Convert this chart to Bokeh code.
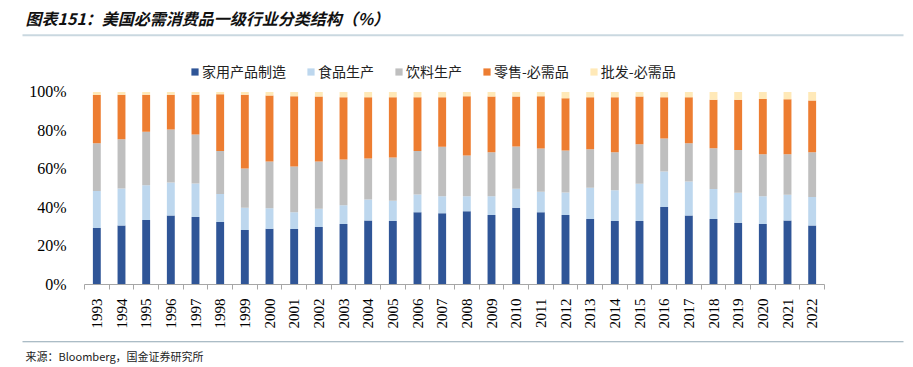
import math
import numpy as np
from bokeh.plotting import figure
from bokeh.layouts import column
from bokeh.models import (ColumnDataSource, Range1d, FixedTicker, Label, BoxAnnotation,
                          Legend, LegendItem, NumeralTickFormatter, Plot, Div)
from bokeh.embed import file_html
from bokeh.resources import INLINE

years = [str(y) for y in range(1993, 2023)]
series_names = ["家用产品制造", "食品生产", "饮料生产", "零售-必需品", "批发-必需品"]
household = [29.4, 30.7, 33.5, 35.8, 35.1, 32.5, 28.3, 29.0, 28.8, 29.9,
             31.4, 33.3, 33.0, 37.5, 37.0, 38.0, 36.1, 39.9, 37.5, 36.1,
             34.0, 33.0, 33.0, 40.2, 35.8, 34.0, 32.1, 31.4, 33.2, 30.7]
food = [19.1, 19.2, 18.0, 17.2, 17.4, 14.5, 11.6, 10.6, 8.7, 9.5,
        9.7, 10.9, 10.5, 9.3, 8.8, 7.8, 9.7, 9.8, 10.7, 11.7,
        16.3, 15.9, 19.3, 18.5, 17.7, 15.6, 15.6, 14.4, 13.4, 14.7]
beverage = [24.9, 25.6, 27.8, 27.5, 25.4, 22.4, 20.4, 24.3, 23.8, 24.5,
            23.8, 21.3, 22.5, 22.5, 25.7, 21.2, 22.9, 22.0, 22.4, 21.8,
            20.0, 19.8, 20.6, 17.1, 19.9, 21.2, 22.2, 21.9, 21.1, 23.3]
retail = [25.0, 23.1, 19.3, 18.1, 20.7, 29.4, 38.3, 34.2, 36.5, 33.7,
          32.4, 31.7, 31.2, 27.9, 25.7, 30.8, 28.9, 25.9, 27.2, 27.1,
          26.9, 28.5, 24.7, 21.4, 23.8, 25.2, 26.0, 28.7, 28.5, 26.8]
wholesale = [1.6, 1.4, 1.4, 1.4, 1.4, 1.2, 1.4, 1.9, 2.2, 2.4,
             2.7, 2.8, 2.8, 2.8, 2.8, 2.2, 2.4, 2.4, 2.2, 3.3,
             2.8, 2.8, 2.4, 2.8, 2.8, 4.0, 4.1, 3.6, 3.8, 4.5]
y_ticks = [0, 20, 40, 60, 80, 100]
title_text = "图表151：美国必需消费品一级行业分类结构（%）"
source_text = "来源：Bloomberg，国金证券研究所"

colors = ["#2F5597", "#BDD7EE", "#BFBFBF", "#ED7D31", "#FFE9B8"]
keys = ["household", "food", "beverage", "retail", "wholesale"]

W = 913
HAS_FRAME_ALIGN = "frame_align" in Plot.properties()

def bare(fig):
    fig.outline_line_color = None
    fig.xgrid.grid_line_color = None
    fig.ygrid.grid_line_color = None

def strip(h):
    f = figure(width=W, height=h, output_backend="svg", toolbar_location=None,
               x_range=Range1d(0, W), y_range=Range1d(0, h),
               x_axis_type=None, y_axis_type=None,
               min_border_left=0, min_border_right=0, min_border_top=0, min_border_bottom=0)
    bare(f)
    f.frame_align = False
    return f

def rule(f, left, right, bottom, top_, color):
    f.add_layout(BoxAnnotation(left=left, right=right, bottom=bottom, top=top_,
                               left_units="screen", right_units="screen",
                               bottom_units="screen", top_units="screen",
                               fill_color=color, fill_alpha=1, line_color=None))

# ---------- header (title + rule) ----------
if HAS_FRAME_ALIGN:
    top = strip(42)
    top.add_layout(Label(x=25, y=25, x_units="screen", y_units="screen", text=title_text,
                         text_font="Noto Sans CJK SC", text_font_size="16px",
                         text_font_style="bold italic", text_color="#111111",
                         text_baseline="middle"))
    rule(top, 22, 903, 6.3, 8.3, "#CAD8E0")
else:
    top = Div(width=W, height=42, margin=0, text=(
        '<div style="position:relative;width:913px;height:42px;">'
        '<div style="position:absolute;left:25px;top:5px;font:italic bold 16px \'Noto Sans CJK SC\';color:#111;white-space:nowrap;">'
        + title_text + '</div>'
        '<div style="position:absolute;left:22px;top:34px;width:881px;height:2px;background:#CAD8E0;"></div></div>'))

# ---------- main chart ----------
n = len(years)
centers = list(np.arange(n) + 0.5)
src = ColumnDataSource(dict(x=centers, household=household, food=food,
                            beverage=beverage, retail=retail, wholesale=wholesale))

# frame extends above 100% to host the legend (no y-axis line is drawn)
p = figure(width=W, height=294, output_backend="svg", toolbar_location=None,
           x_range=Range1d(0, n), y_range=Range1d(0, 115.3),
           min_border_left=84, min_border_right=89, min_border_top=20, min_border_bottom=52)
bare(p)
if HAS_FRAME_ALIGN:
    p.frame_align = False

renderers = p.vbar_stack(keys, x="x", width=0.32, color=colors, source=src, line_color=None)

p.xaxis.ticker = FixedTicker(ticks=centers, minor_ticks=list(range(n + 1)))
p.xaxis.major_label_overrides = {c: y for c, y in zip(centers, years)}
p.xaxis.major_label_orientation = math.pi / 2
p.xaxis.major_tick_out = 0
p.xaxis.major_tick_in = 0
p.xaxis.minor_tick_out = 5
p.xaxis.minor_tick_in = 0
p.xaxis.minor_tick_line_color = "#A6A6A6"
p.xaxis.axis_line_color = "#A6A6A6"
p.xaxis.major_label_standoff = 9
p.xaxis.major_label_text_font = "Liberation Serif"
p.xaxis.major_label_text_font_size = "15px"
p.xaxis.major_label_text_color = "#000000"

p.yaxis.ticker = FixedTicker(ticks=y_ticks)
p.yaxis.formatter = NumeralTickFormatter(format="0")
p.yaxis.major_label_overrides = {t: f"{t}%" for t in y_ticks}
p.yaxis.axis_line_color = None
p.yaxis.major_tick_line_color = None
p.yaxis.minor_tick_line_color = None
p.yaxis.major_label_standoff = 12
p.yaxis.major_label_text_font = "Liberation Serif"
p.yaxis.major_label_text_font_size = "16px"
p.yaxis.major_label_text_color = "#000000"

legend = Legend(items=[LegendItem(label=nm, renderers=[r]) for nm, r in zip(series_names, renderers)],
                orientation="horizontal", location=(106, 203),
                glyph_width=9, glyph_height=9, label_standoff=3, spacing=20,
                padding=0, margin=0, border_line_color=None, background_fill_alpha=0,
                label_text_font="Noto Sans CJK SC", label_text_font_size="14px",
                label_text_color="#222222", label_height=20)
p.add_layout(legend, "center")

# ---------- footer (rule + source) ----------
if HAS_FRAME_ALIGN:
    bot = strip(31)
    rule(bot, 22, 903, 25.2, 26.2, "#8FA6B3")
    bot.add_layout(Label(x=25, y=12, x_units="screen", y_units="screen", text=source_text,
                         text_font="Noto Sans CJK SC", text_font_size="11px",
                         text_color="#222222", text_baseline="middle"))
else:
    bot = Div(width=W, height=31, margin=0, text=(
        '<div style="position:relative;width:913px;height:31px;">'
        '<div style="position:absolute;left:22px;top:5px;width:881px;height:1px;background:#8FA6B3;"></div>'
        '<div style="position:absolute;left:25px;top:11px;font:11px \'Noto Sans CJK SC\';color:#222;white-space:nowrap;">'
        + source_text + '</div></div>'))

layout = column(top, p, bot, spacing=0)
open("out.html", "w").write(file_html(layout, INLINE))
